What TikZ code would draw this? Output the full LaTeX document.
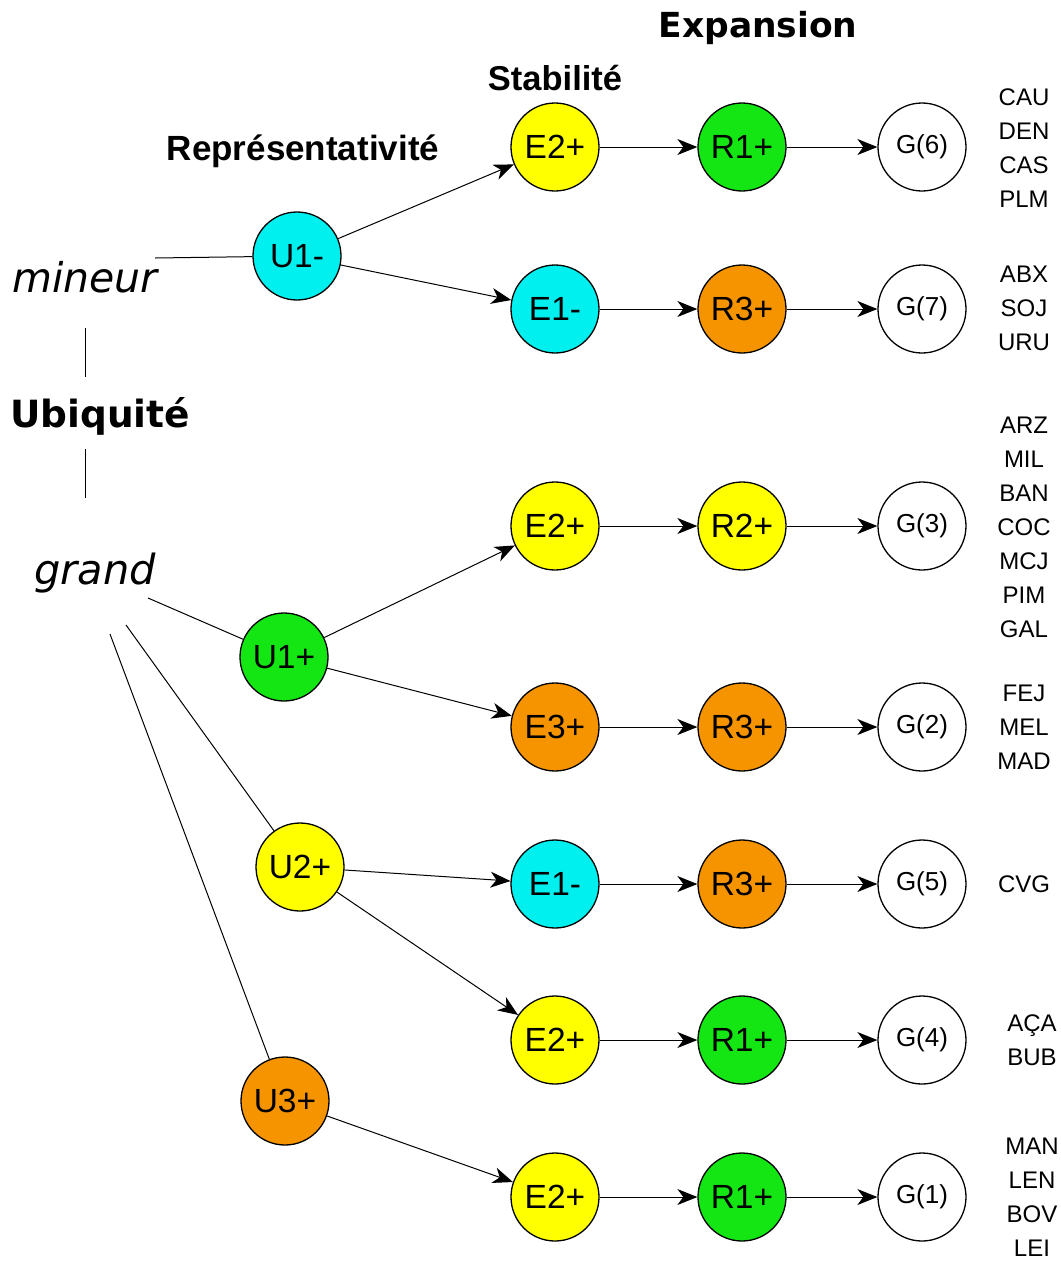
\documentclass[tikz,border=0pt]{standalone}
\usepackage{fontspec}
\setmainfont{Liberation Sans}
\newfontfamily\dejavu{DejaVu Sans}
\usetikzlibrary{arrows.meta}
\definecolor{cyanc}{RGB}{0,240,240}
\definecolor{greenc}{RGB}{20,230,20}
\definecolor{yellowc}{RGB}{255,255,0}
\definecolor{orangec}{RGB}{246,148,0}
\begin{document}
\begin{tikzpicture}[x=1pt,y=-1pt,
  state/.style={circle,draw=black,line width=1.3pt,minimum size=88pt,inner sep=0pt,font=\fontsize{33.5}{33.5}\selectfont},
  gnode/.style={state,fill=white,font=\fontsize{26}{26}\selectfont},
  link/.style={line width=1pt},
  arr/.style={link,-{Stealth[length=20pt,width=16pt,inset=6pt]}},
  names/.style={align=center,font=\fontsize{24}{34}\selectfont,inner sep=0pt},
  head/.style={anchor=base,inner sep=0pt}]
\useasboundingbox (0,0) rectangle (1061,1262);

% headers
\node[head,font=\dejavu\bfseries\fontsize{34.5}{34.5}\selectfont] (exp) at (758,37) {Expansion};
\node[head,font=\bfseries\fontsize{34.5}{34.5}\selectfont] (stab) at (555,90) {Stabilité};
\node[head,font=\bfseries\fontsize{35}{35}\selectfont] (repr) at (303,160) {Représentativité};
\node[head,font=\dejavu\itshape\fontsize{41}{41}\selectfont] (min) at (85,292) {mineur};
\node[head,font=\dejavu\bfseries\fontsize{37.5}{37.5}\selectfont] (ubi) at (100,427) {Ubiquité};
\node[head,font=\dejavu\itshape\fontsize{41.5}{41.5}\selectfont] (grand) at (95,584) {grand};

% U column
\node[state,fill=cyanc] (u1m) at (297,256) {U1-};
\node[state,fill=greenc] (u1p) at (284,657) {U1+};
\node[state,fill=yellowc] (u2p) at (300,867) {U2+};
\node[state,fill=orangec] (u3p) at (285,1101) {U3+};

% rows
\node[state,fill=yellowc] (e1) at (555,147) {E2+};
\node[state,fill=greenc] (r1) at (742,147) {R1+};
\node[gnode] (g1) at (922,147) {G(6)};
\node[names] (n1) at (1024,148) {CAU\\DEN\\CAS\\PLM};

\node[state,fill=cyanc] (e2) at (555,309) {E1-};
\node[state,fill=orangec] (r2) at (742,309) {R3+};
\node[gnode] (g2) at (922,309) {G(7)};
\node[names] (n2) at (1024,308) {ABX\\SOJ\\URU};

\node[state,fill=yellowc] (e3) at (555,526) {E2+};
\node[state,fill=yellowc] (r3) at (742,526) {R2+};
\node[gnode] (g3) at (922,526) {G(3)};
\node[names] (n3) at (1024,527) {ARZ\\MIL\\BAN\\COC\\MCJ\\PIM\\GAL};

\node[state,fill=orangec] (e4) at (555,727) {E3+};
\node[state,fill=orangec] (r4) at (742,727) {R3+};
\node[gnode] (g4) at (922,727) {G(2)};
\node[names] (n4) at (1024,727) {FEJ\\MEL\\MAD};

\node[state,fill=cyanc] (e5) at (555,884) {E1-};
\node[state,fill=orangec] (r5) at (742,884) {R3+};
\node[gnode] (g5) at (922,884) {G(5)};
\node[names] (n5) at (1024,884) {CVG};

\node[state,fill=yellowc] (e6) at (555,1040) {E2+};
\node[state,fill=greenc] (r6) at (742,1040) {R1+};
\node[gnode] (g6) at (922,1040) {G(4)};
\node[names] (n6) at (1032,1040) {AÇA\\BUB};

\node[state,fill=yellowc] (e7) at (555,1197) {E2+};
\node[state,fill=greenc] (r7) at (742,1197) {R1+};
\node[gnode] (g7) at (922,1197) {G(1)};
\node[names] (n7) at (1032,1197) {MAN\\LEN\\BOV\\LEI};

% free ends
\coordinate (m0) at (155,258);
\coordinate (va) at (85,328);
\coordinate (vb) at (85,377);
\coordinate (vc) at (85,449);
\coordinate (vd) at (85,498);
\coordinate (ga) at (148,598);
\coordinate (gb) at (126,625);
\coordinate (gc) at (110,634);

\draw[link] (m0) -- (u1m);
\draw[link] (va) -- (vb);
\draw[link] (vc) -- (vd);
\draw[link] (ga) -- (u1p);
\draw[link] (gb) -- (u2p);
\draw[link] (gc) -- (u3p);

\draw[arr] (u1m) -- (e1);
\draw[arr] (u1m) -- (e2);
\draw[arr] (u1p) -- (e3);
\draw[arr] (u1p) -- (e4);
\draw[arr] (u2p) -- (e5);
\draw[arr] (u2p) -- (e6);
\draw[arr] (u3p) -- (e7);

\foreach \i in {1,...,7}{
  \draw[arr] (e\i) -- (r\i);
  \draw[arr] (r\i) -- (g\i);
}
\end{tikzpicture}
\end{document}
